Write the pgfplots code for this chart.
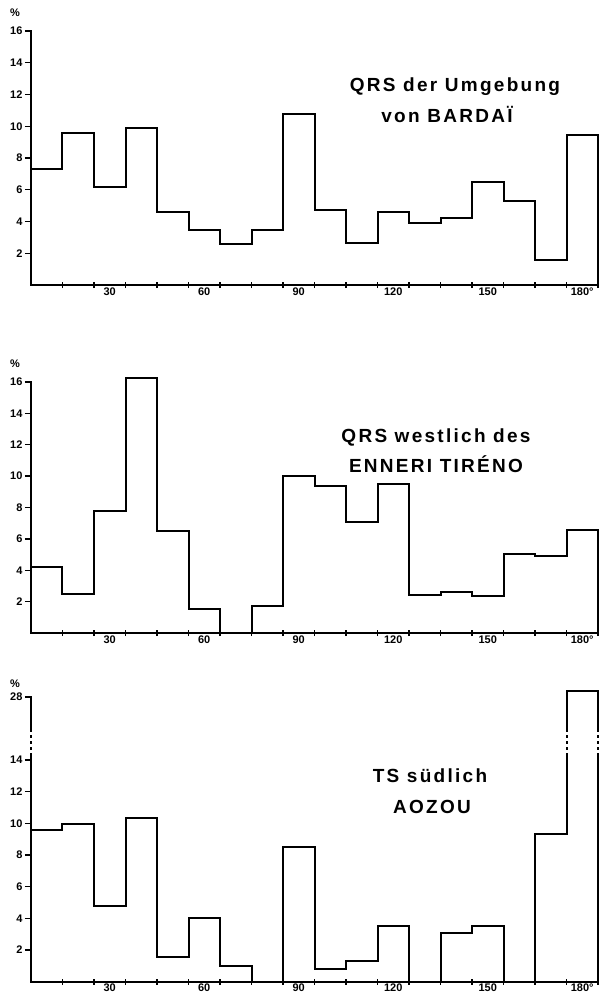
\documentclass[border=0pt]{standalone}
\usepackage{fontspec}
\setmainfont{Liberation Sans}
\newfontfamily\titlefont[LetterSpace=12]{Liberation Sans}
\usepackage{pgfplots}
\pgfplotsset{compat=1.18}

\pgfplotsset{
  hist/.style={
    scale only axis, width=567pt, anchor=south west,
    xmin=0, xmax=180, ymin=0, clip=false,
    axis lines*=left,
    axis line style={line width=2.4pt, line cap=rect},
    xtick={10,20,...,180}, xticklabels={},
    extra x ticks={25,55,85,115,145,175},
    extra x tick labels={30,60,90,120,150,180°},
    extra x tick style={major tick length=0pt},
    xtick align=center, ytick align=outside,
    major tick length=6pt,
    tick style={line width=1.4pt, black},
    ticklabel style={font=\bfseries\fontsize{11}{11}\selectfont},
    xticklabel style={yshift=1pt},
    yticklabel style={xshift=1pt},
    /pgf/number format/assume math mode=true,
  },
  histline/.style={black, line width=2pt, const plot mark left, mark=none},
}

\begin{document}
\begin{tikzpicture}
\useasboundingbox (0,0) rectangle (598pt,-997pt);

% Panel 1: QRS der Umgebung von BARDAI
\begin{axis}[hist, at={(31pt,-285pt)}, height=254pt, ymax=16, ytick={2,4,...,16}]
\addplot[histline] coordinates {
  (0,7.3)(10,9.6)(20,6.2)(30,9.9)(40,4.6)(50,3.45)(60,2.6)(70,3.45)(80,10.75)
  (90,4.75)(100,2.65)(110,4.6)(120,3.9)(130,4.2)(140,6.5)(150,5.3)(160,1.6)(170,9.45)
  (180,9.45)(180,0)
};
\end{axis}

% Panel 2: QRS westlich des ENNERI TIRENO
\begin{axis}[hist, at={(31pt,-633pt)}, height=251pt, ymax=16, ytick={2,4,...,16}]
\addplot[histline] coordinates {
  (0,4.2)(10,2.5)(20,7.75)(30,16.25)(40,6.5)(50,1.55)(60,0)(70,1.7)(80,10.0)
  (90,9.4)(100,7.05)(110,9.5)(120,2.4)(130,2.6)(140,2.35)(150,5.05)(160,4.9)(170,6.55)
  (180,6.55)(180,0)
};
\end{axis}

% Panel 3: TS suedlich AOZOU (broken y axis above 14)
\begin{axis}[hist, at={(31pt,-981.7pt)}, height=284.7pt, ymax=28, ytick={2,4,...,14,28},
  y coord trafo/.code={\pgfmathparse{#1>14 ? 14+(#1-14)*0.2843 : #1}},
  y coord inv trafo/.code={\pgfmathparse{#1>14 ? 14+(#1-14)/0.2843 : #1}}]
\addplot[histline] coordinates {
  (0,9.6)(10,9.95)(20,4.8)(30,10.35)(40,1.55)(50,4.0)(60,1.0)(70,0)(80,8.5)
  (90,0.8)(100,1.3)(110,3.5)(120,0)(130,3.05)(140,3.5)(150,0)(160,9.35)(170,29.4)
  (180,29.4)(180,0)
};
\end{axis}

% axis break marks
\foreach \xx/\lw in {31/2.4, 566.5/2, 598/2} {
  \draw[white, line width=4.5pt] (\xx pt,-729pt) -- (\xx pt,-756pt);
  \draw[black, line width=\lw pt, dash pattern=on 3pt off 3pt] (\xx pt,-729pt) -- (\xx pt,-756pt);
}

% percent signs
\foreach \yy in {13,364,684}
  \node[font=\bfseries\fontsize{11}{11}\selectfont] at (15pt,-\yy pt) {\%};

% titles
\begin{scope}[every node/.style={anchor=base, font=\titlefont\bfseries\fontsize{19}{19}\selectfont}]
\node at (455pt,-91pt) {QRS der Umgebung};
\node at (447pt,-122pt) {von BARDAÏ};
\node at (436pt,-442pt) {QRS westlich des};
\node at (436pt,-472pt) {ENNERI TIRÉNO};
\node at (430pt,-782pt) {TS südlich};
\node at (432pt,-813pt) {AOZOU};
\end{scope}
\end{tikzpicture}
\end{document}
